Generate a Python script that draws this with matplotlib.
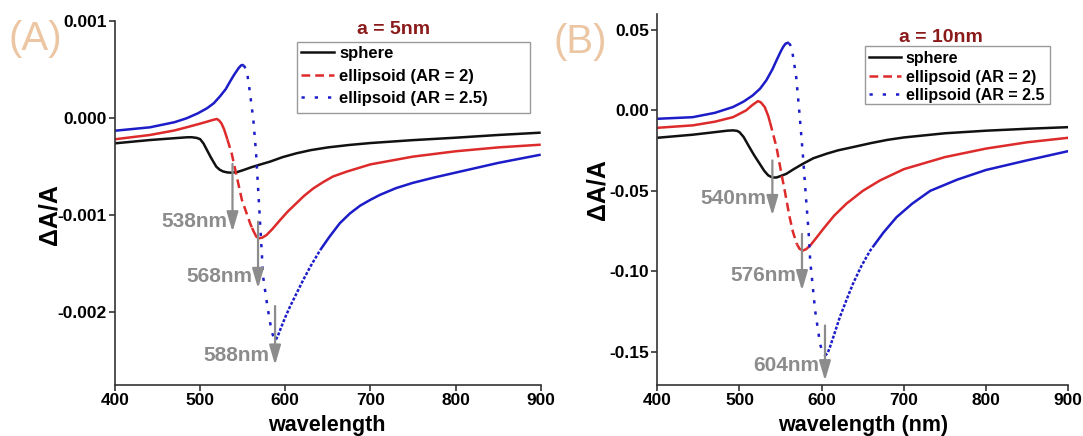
import matplotlib
matplotlib.use("Agg")
import matplotlib.pyplot as plt
from matplotlib.lines import Line2D
from matplotlib.patches import Rectangle
import numpy as np

plt.rcParams['font.family'] = ['Liberation Sans', 'DejaVu Sans']

# ---------------- data: panel A (a = 5nm), dA/A in units of 1e-3 ----------------
wl_a_sph = [400, 441, 470, 484, 490, 496, 500, 504, 508, 513, 519, 523, 527, 532, 537, 544,
            551, 560, 570, 582, 597, 613, 630, 650, 675, 700, 750, 800, 850, 900]
dA_a_sph = [-0.258, -0.224, -0.205, -0.196, -0.195, -0.202, -0.215, -0.26, -0.327, -0.41,
            -0.499, -0.53, -0.548, -0.558, -0.561, -0.553, -0.533, -0.505, -0.478, -0.447,
            -0.40, -0.361, -0.328, -0.300, -0.275, -0.255, -0.225, -0.200, -0.172, -0.148]
wl_a_ar2 = [400, 441, 470, 484, 500, 508, 515, 519.5, 522, 525, 528, 531, 537, 543, 549, 555,
            559, 562.5, 566, 569, 573, 578, 585, 594, 603, 613, 622, 633, 645, 656, 672, 700,
            750, 800, 850, 900]
dA_a_ar2 = [-0.216, -0.172, -0.125, -0.093, -0.055, -0.035, -0.017, -0.007, -0.02, -0.052,
            -0.11, -0.19, -0.36, -0.60, -0.84, -0.99, -1.09, -1.16, -1.22, -1.237, -1.23,
            -1.203, -1.14, -1.048, -0.96, -0.876, -0.80, -0.722, -0.655, -0.60, -0.55, -0.475,
            -0.395, -0.34, -0.30, -0.272]
wl_a_ar25 = [400, 441, 470, 484, 497, 508, 516, 523, 530, 535, 540, 545, 548, 550, 552, 555,
             558.6, 562.5, 565.7, 568.4, 570, 574, 579, 584, 587, 589, 591, 594, 600, 605.6,
             621, 630, 641, 652, 664, 676, 688, 700, 711, 730, 750, 775, 800, 850, 900]
dA_a_ar25 = [-0.128, -0.093, -0.04, 0.0, 0.05, 0.103, 0.155, 0.223, 0.30, 0.377, 0.45, 0.515,
             0.545, 0.55, 0.535, 0.48, 0.258, -0.018, -0.36, -0.773, -1.014, -1.633, -1.94,
             -2.2, -2.27, -2.28, -2.25, -2.18, -2.05, -1.94, -1.667, -1.52, -1.358, -1.22,
             -1.082, -0.98, -0.90, -0.84, -0.79, -0.72, -0.665, -0.61, -0.56, -0.46, -0.375]
dA_a_sph = [v * 1e-3 for v in dA_a_sph]
dA_a_ar2 = [v * 1e-3 for v in dA_a_ar2]
dA_a_ar25 = [v * 1e-3 for v in dA_a_ar25]

# ---------------- data: panel B (a = 10nm) ----------------
wl_b_sph = [400, 443, 470, 485, 492, 497, 500, 505, 512, 518, 525, 530, 535, 540, 545, 550,
            557, 566, 577, 590, 606, 620, 638, 660, 680, 700, 750, 800, 850, 900]
dA_b_sph = [-0.0170, -0.0151, -0.0135, -0.0126, -0.0124, -0.0127, -0.0135, -0.0165, -0.0228,
            -0.0280, -0.0335, -0.0375, -0.0404, -0.0417, -0.0417, -0.0408, -0.0394, -0.0365,
            -0.0332, -0.0297, -0.0269, -0.0248, -0.0228, -0.0203, -0.0183, -0.0168, -0.0142,
            -0.0126, -0.0114, -0.0104]
wl_b_ar2 = [400, 443, 470, 492, 508, 516, 522.5, 526, 530.7, 535, 538.7, 545, 551, 555, 561,
            565, 569.6, 573, 577, 581, 586, 593, 602, 615, 630, 650, 671, 700, 750, 800, 850, 900]
dA_b_ar2 = [-0.0108, -0.0093, -0.0070, -0.0042, 0.0, 0.0035, 0.0058, 0.0050, 0.0021, -0.0035,
            -0.0104, -0.0228, -0.0394, -0.0498, -0.0664, -0.0755, -0.0829, -0.0860, -0.0871,
            -0.0863, -0.0840, -0.0795, -0.0736, -0.0655, -0.0580, -0.0500, -0.0435, -0.0365,
            -0.0290, -0.0237, -0.0198, -0.0170]
wl_b_ar25 = [400, 443, 470, 492, 505, 516, 525, 532.6, 540, 545, 550, 553, 556, 559, 561.5,
             564, 569, 573, 577, 581, 584, 586, 592, 598, 601, 604, 607, 610, 616, 622, 630,
             638, 648, 659, 675, 691, 710, 732, 765, 800, 850, 900]
dA_b_ar25 = [-0.0052, -0.0042, -0.0015, 0.0021, 0.0055, 0.0093, 0.0135, 0.0187, 0.0255,
             0.0311, 0.0365, 0.0394, 0.0415, 0.0421, 0.0410, 0.0373, 0.0207, -0.0021, -0.0269,
             -0.0550, -0.0750, -0.0933, -0.1244, -0.1451, -0.1505, -0.1524, -0.1510, -0.1472,
             -0.1380, -0.1286, -0.1180, -0.1078, -0.0970, -0.0871, -0.0760, -0.0664, -0.0580,
             -0.0500, -0.0430, -0.0370, -0.0310, -0.0253]

# peak markers: wavelength, arrow top, arrow tip, label y
peaks_a = [538, 568, 588]
arrow_top_a = [-0.471e-3, -1.066e-3, -1.935e-3]
arrow_tip_a = [-1.169e-3, -1.753e-3, -2.543e-3]
label_y_a = [-1.066e-3, -1.633e-3, -2.44e-3]
peaks_b = [540, 576, 604]
arrow_top_b = [-0.0311, -0.0767, -0.1337]
arrow_tip_b = [-0.0653, -0.112, -0.168]
label_y_b = [-0.0549, -0.1026, -0.1586]

labels = ['sphere', 'ellipsoid (AR = 2)', 'ellipsoid (AR = 2.5)']

BLACK = '#111111'
RED = '#dd2a2a'
BLUE = '#1c1cc8'
GRAY = '#8c8c8c'
DASH = (0, (3.5, 2))
DOT = (0, (1.3, 3.2))
FINE = (0, (1.2, 0.7))


def draw_curve(ax, wl, vals, color, pieces):
    # pieces: list of (lo, hi, linestyle); outside them the line is solid
    wl = np.asarray(wl, float)
    vals = np.asarray(vals, float)
    edges = [wl[0]]
    styles = []
    cur = wl[0]
    for lo, hi, ls in pieces:
        if lo > cur:
            edges.append(lo)
            styles.append('-')
        edges.append(hi)
        styles.append(ls)
        cur = hi
    if cur < wl[-1]:
        edges.append(wl[-1])
        styles.append('-')
    for i, ls in enumerate(styles):
        lo, hi = edges[i], edges[i + 1]
        inner = (wl > lo) & (wl < hi)
        x = np.concatenate([[lo], wl[inner], [hi]])
        y = np.interp(x, wl, vals)
        ax.plot(x, y, color=color, lw=1.8, linestyle=ls, solid_capstyle='butt',
                solid_joinstyle='round', dash_capstyle='butt')


def style_axes(ax, ylim, yticks, fmt):
    ax.set_xlim(400, 900)
    ax.set_ylim(*ylim)
    ax.set_xticks([400, 500, 600, 700, 800, 900])
    ax.set_yticks(yticks)
    ax.set_yticklabels([fmt.format(t) for t in yticks])
    for s in ['top', 'right']:
        ax.spines[s].set_visible(False)
    for s in ['left', 'bottom']:
        ax.spines[s].set_linewidth(1.2)
        ax.spines[s].set_color('#333333')
    ax.tick_params(direction='out', length=4, width=1.2, color='#333333', pad=2,
                   labelsize=12.5)
    for t in ax.get_xticklabels() + ax.get_yticklabels():
        t.set_fontweight('bold')


def draw_arrows(ax, peaks, tops, tips, ys):
    for p, t0, t1, ly in zip(peaks, tops, tips, ys):
        ax.annotate('', xy=(p, t1), xytext=(p, t0),
                    arrowprops=dict(arrowstyle='-|>,head_length=0.85,head_width=0.25',
                                    color=GRAY, lw=1.6, mutation_scale=14,
                                    shrinkA=0, shrinkB=0))
        ax.annotate(f'{p}nm', xy=(p, ly), xytext=(-4, 0), textcoords='offset points',
                    ha='right', va='center', color=GRAY, fontsize=15, fontweight='bold')


W, H = 1083, 436
fig = plt.figure(figsize=(W / 100, H / 100), dpi=100)

axA = fig.add_axes([115 / W, 1 - 385 / H, (540.7 - 115) / W, (385 - 20.7) / H])
axB = fig.add_axes([657.3 / W, 1 - 385 / H, (1068.3 - 657.3) / W, (385 - 14) / H])

draw_curve(axA, wl_a_sph, dA_a_sph, BLACK, [])
draw_curve(axA, wl_a_ar2, dA_a_ar2, RED, [(532, 561, DASH)])
draw_curve(axA, wl_a_ar25, dA_a_ar25, BLUE, [(551, 589, DOT), (589, 641, FINE)])
style_axes(axA, (-2.749e-3, 1.006e-3), [0.001, 0.0, -0.001, -0.002], '{:.3f}')
draw_arrows(axA, peaks_a, arrow_top_a, arrow_tip_a, label_y_a)

draw_curve(axB, wl_b_sph, dA_b_sph, BLACK, [])
draw_curve(axB, wl_b_ar2, dA_b_ar2, RED, [(537, 570, DASH)])
draw_curve(axB, wl_b_ar25, dA_b_ar25, BLUE, [(560, 604, DOT), (604, 662, FINE)])
style_axes(axB, (-0.1707, 0.05995), [0.05, 0.0, -0.05, -0.10, -0.15], '{:.2f}')
draw_arrows(axB, peaks_b, arrow_top_b, arrow_tip_b, label_y_b)

handles = [Line2D([], [], color=BLACK, lw=1.8),
           Line2D([], [], color=RED, lw=1.8, linestyle=DASH),
           Line2D([], [], color=BLUE, lw=1.8, linestyle=(0, (1.3, 4)))]

# legends with plain rectangular frames
for ax, box, anchor, labs, fs, sp in [
        (axA, (297, 42, 530, 113), (301, 46), labels, 12, 0.45),
        (axB, (865, 46, 1050, 104), (869, 51), labels[:2] + ['ellipsoid (AR = 2.5'], 11.5, 0.22)]:
    x0, y0, x1, y1 = box
    ax.add_patch(Rectangle((x0 / W, 1 - y1 / H), (x1 - x0) / W, (y1 - y0) / H,
                           transform=fig.transFigure, fill=False,
                           edgecolor='#9a9a9a', lw=1.0, zorder=4, clip_on=False))
    leg = ax.legend(handles, labs, loc='upper left',
                    bbox_to_anchor=(anchor[0] / W, 1 - anchor[1] / H),
                    bbox_transform=fig.transFigure, frameon=False, borderpad=0,
                    borderaxespad=0, handlelength=2.0, handletextpad=0.3,
                    labelspacing=sp, prop={'weight': 'bold', 'size': fs})

fig.text(394 / W, 1 - 30 / H, 'a = 5nm', ha='center', va='center', fontsize=14,
         fontweight='bold', color='#8b1a1a')
fig.text(941 / W, 1 - 37 / H, 'a = 10nm', ha='center', va='center', fontsize=14,
         fontweight='bold', color='#8b1a1a')

fig.text(35 / W, 1 - 39 / H, '(A)', ha='center', va='center', fontsize=29, color='#ecc6a2')
fig.text(580 / W, 1 - 42 / H, '(B)', ha='center', va='center', fontsize=29, color='#ecc6a2')

fig.text(49 / W, 1 - 215 / H, 'ΔA/A', rotation=90, ha='center', va='center',
         fontsize=18, fontweight='bold')
fig.text(597 / W, 1 - 190 / H, 'ΔA/A', rotation=90, ha='center', va='center',
         fontsize=18, fontweight='bold')

fig.text(327 / W, 1 - 425 / H, 'wavelength', ha='center', va='center', fontsize=15.5,
         fontweight='bold')
fig.text(863 / W, 1 - 425 / H, 'wavelength (nm)', ha='center', va='center', fontsize=15.5,
         fontweight='bold')

fig.savefig('out.png', dpi=100)
